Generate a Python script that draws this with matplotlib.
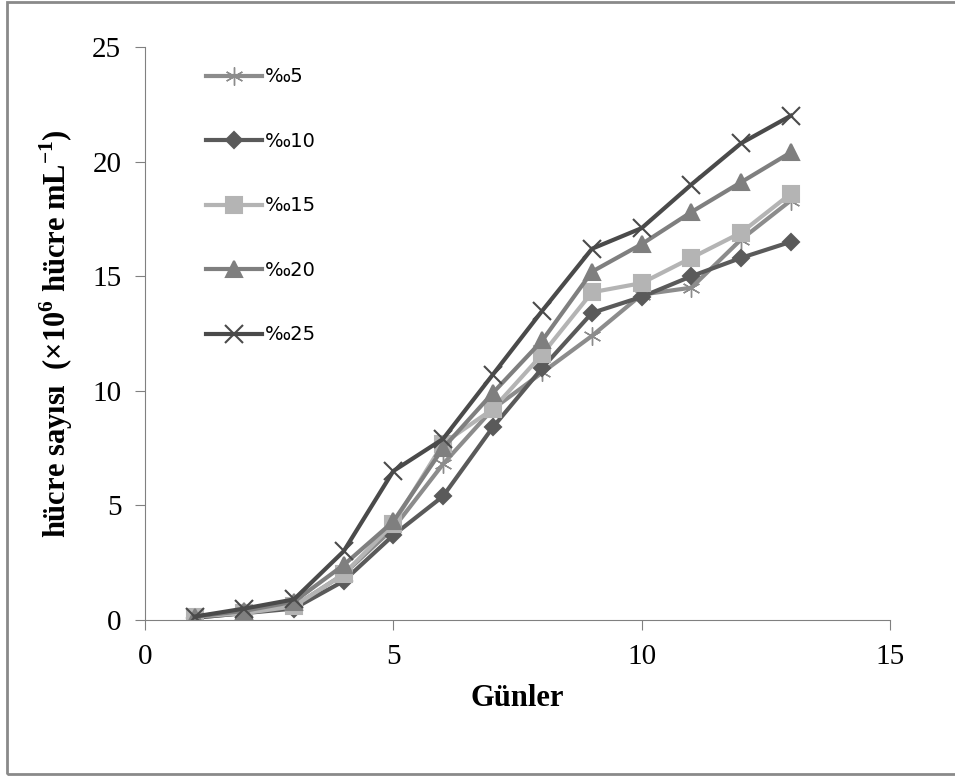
import matplotlib.pyplot as plt
from matplotlib.patches import Rectangle

plt.rcParams["mathtext.fontset"] = "custom"
plt.rcParams["mathtext.rm"] = "Liberation Serif:bold"
plt.rcParams["mathtext.bf"] = "Liberation Serif:bold"

days = [1, 2, 3, 4, 5, 6, 7, 8, 9, 10, 11, 12, 13]

s5 = [0.1, 0.3, 0.6, 2.0, 4.0, 6.8, 9.2, 10.8, 12.4, 14.2, 14.5, 16.6, 18.3]
s10 = [0.1, 0.3, 0.5, 1.7, 3.7, 5.4, 8.4, 11.0, 13.4, 14.1, 15.0, 15.8, 16.5]
s15 = [0.15, 0.3, 0.6, 2.0, 4.2, 7.7, 9.2, 11.6, 14.3, 14.7, 15.8, 16.9, 18.6]
s20 = [0.15, 0.4, 0.8, 2.4, 4.3, 7.5, 9.9, 12.2, 15.2, 16.4, 17.8, 19.1, 20.4]
s25 = [0.15, 0.5, 0.9, 3.0, 6.5, 7.9, 10.7, 13.5, 16.2, 17.1, 19.0, 20.8, 22.0]

labels = ["‰5", "‰10", "‰15", "‰20", "‰25"]
series = [s5, s10, s15, s20, s25]
colors = ["#8c8c8c", "#5a5a5a", "#b4b4b4", "#7f7f7f", "#4a4a4a"]
markers = [(6, 2, 0), "D", "s", "^", "x"]
msizes = [13, 8, 12, 11, 13]
medges = [1.0, 1.5, 1.5, 1.5, 1.5]

fig = plt.figure(figsize=(9.55, 7.76), dpi=100)
ax = fig.add_axes([0.1518, 0.201, 0.7802, 0.7384])

for ys, lab, c, m, ms, mew in zip(series, labels, colors, markers, msizes, medges):
    ax.plot(days, ys, color=c, lw=3, marker=m, markersize=ms,
            markeredgecolor=c, markeredgewidth=mew, label=lab)

ax.set_xlim(0, 15)
ax.set_ylim(0, 25)
ax.set_xticks([0, 5, 10, 15])
ax.set_yticks([0, 5, 10, 15, 20, 25])
ax.tick_params(direction="out", length=7, color="#808080",
               labelsize=21, pad=10)
for lbl in ax.get_xticklabels() + ax.get_yticklabels():
    lbl.set_fontfamily("Liberation Serif")

for side in ["top", "right"]:
    ax.spines[side].set_visible(False)
for side in ["left", "bottom"]:
    ax.spines[side].set_color("#808080")

ax.set_xlabel("Günler", fontfamily="Liberation Serif", fontweight="bold",
              fontsize=22, labelpad=10)
ax.set_ylabel("hücre sayısı  (×10$^{6}$ hücre mL$^{-1}$)",
              fontfamily="Liberation Serif", fontweight="bold",
              fontsize=22, labelpad=12)

ax.legend(loc="upper left", bbox_to_anchor=(0.059, 0.995), frameon=False,
          labelspacing=2.34, handlelength=2.85, handletextpad=0.15,
          prop={"family": "DejaVu Sans", "size": 14})

fig.patches.append(Rectangle((7 / 955, 2 / 776), 1.0, 772 / 776,
                             transform=fig.transFigure, fill=False,
                             edgecolor="#8a8a8a", lw=2))

fig.savefig("out.png", dpi=100)
